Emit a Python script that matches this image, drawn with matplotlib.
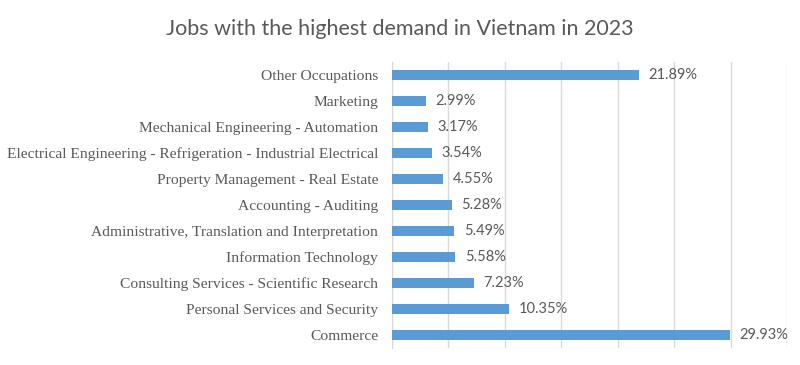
import matplotlib
matplotlib.use("Agg")
import matplotlib.pyplot as plt

categories = [
    "Commerce",
    "Personal Services and Security",
    "Consulting Services - Scientific Research",
    "Information Technology",
    "Administrative, Translation and Interpretation",
    "Accounting - Auditing",
    "Property Management - Real Estate",
    "Electrical Engineering - Refrigeration - Industrial Electrical",
    "Mechanical Engineering - Automation",
    "Marketing",
    "Other Occupations",
]
values = [29.93, 10.35, 7.23, 5.58, 5.49, 5.28, 4.55, 3.54, 3.17, 2.99, 21.89]
title = "Jobs with the highest demand in Vietnam in 2023"

fig = plt.figure(figsize=(8, 3.65), dpi=100)
ax = fig.add_axes([392/800, 17/365, 395/800, 286/365])

y = list(range(len(categories)))
ax.barh(y, values, height=0.35, color="#5b9bd5", zorder=3)
ax.set_ylim(-0.5, len(categories) - 0.5)
ax.set_xlim(0, 35)
ax.set_xticks(range(0, 36, 5))
ax.set_xticklabels([])
ax.tick_params(axis="x", length=0)
ax.tick_params(axis="y", length=0, pad=10)
ax.set_yticks(y)
ax.set_yticklabels(categories, fontfamily="Liberation Serif", fontsize=11.15, color="#595959")
ax.grid(axis="x", color="#d9d9d9", linewidth=1, zorder=0)
for s in ["top", "right", "bottom"]:
    ax.spines[s].set_visible(False)
ax.spines["left"].set_color("#d9d9d9")

for yi, v in zip(y, values):
    ax.annotate(f"{v:.2f}%", (v, yi), xytext=(7, 0), textcoords="offset points",
                va="center", ha="left", fontfamily="Lato", fontsize=10.5, color="#595959")

fig.text(0.5, 1 - 29/365, title, ha="center", va="center", fontfamily="Lato",
         fontweight="normal", fontsize=15.5, color="#595959")

fig.savefig("out.png", dpi=100, facecolor="white")
